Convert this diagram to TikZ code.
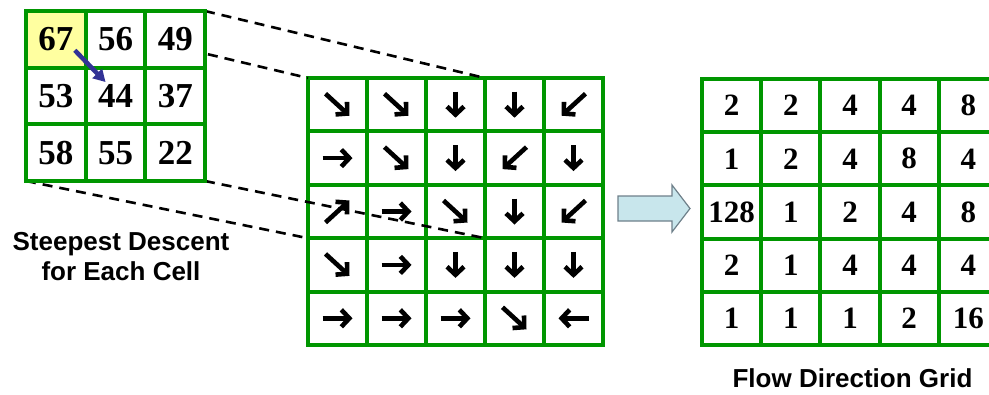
\documentclass[tikz,border=0pt]{standalone}
\usepackage{fontspec}
\setmainfont{Liberation Serif}
\newfontfamily\labfont{Liberation Sans}
\usetikzlibrary{arrows.meta}
\definecolor{gridgreen}{RGB}{0,150,0}
\definecolor{cellyellow}{RGB}{255,255,160}
\definecolor{descblue}{RGB}{50,50,150}
\definecolor{blockfill}{RGB}{200,230,236}
\definecolor{blockedge}{RGB}{110,128,138}
\tikzset{
  cellbase/.style={draw=gridgreen, line width=4pt, fill=white, inner sep=0pt, outer sep=0pt, rectangle},
  scell/.style={cellbase, minimum width=59.7pt, minimum height=56.7pt, font=\fontsize{35}{37}\selectfont\bfseries},
  mcell/.style={cellbase, minimum width=59pt, minimum height=53.4pt},
  rcell/.style={cellbase, minimum width=59.2pt, minimum height=53.2pt, font=\fontsize{31}{33}\selectfont\bfseries},
  flowarr/.style={line width=4.6pt, black, -{Straight Barb[length=8pt,width=17pt]}},
  descarr/.style={line width=4.5pt, descblue, -{Triangle[length=12pt,width=13pt]}},
  guide/.style={black, line width=2.6pt, dash pattern=on 10pt off 7pt},
  lab/.style={font=\labfont\fontsize{26}{30}\selectfont\bfseries, align=center, inner sep=0pt},
  blockarr/.style={fill=blockfill, draw=blockedge, line width=1.2pt, line join=miter}
}
\begin{document}
\begin{tikzpicture}[x=1pt,y=-1pt]
\useasboundingbox (0,0) rectangle (989,394);
\clip (0,0) rectangle (989,394);
% middle grid cells
\foreach \rr in {1,...,5} {
  \foreach \cc in {1,...,5} {
    \node[mcell] (m-\rr-\cc) at ({308+29.5+59*(\cc-1)},{78+26.7+53.4*(\rr-1)}) {};
  }
}
% right grid
\foreach \row [count=\rr] in {{2,2,4,4,8},{1,2,4,8,4},{128,1,2,4,8},{2,1,4,4,4},{1,1,1,2,16}} {
  \foreach \v [count=\cc] in \row {
    \node[rcell] (r-\rr-\cc) at ({702+29.6+59.2*(\cc-1)},{79+26.6+53.2*(\rr-1)}) {\v};
  }
}
% guide lines
\coordinate (g1) at (26,11);
\draw[guide] (g1) -- (m-1-1.north west);
\draw[guide] (205,11) -- (m-1-3.north east);
\draw[guide] (26,181) -- (m-3-1.south west);
\draw[guide] (205,181) -- (m-3-3.south east);
% flow arrows
\foreach \row [count=\rr] in {{2,2,4,4,8},{1,2,4,8,4},{128,1,2,4,8},{2,1,4,4,4},{1,1,1,2,16}} {
  \foreach \v [count=\cc] in \row {
    \pgfmathsetmacro{\dx}{((\v==1)||(\v==2)||(\v==128)) ? 1 : (((\v==8)||(\v==16)||(\v==32)) ? -1 : 0)}
    \pgfmathsetmacro{\dy}{((\v==2)||(\v==4)||(\v==8)) ? 1 : (((\v==32)||(\v==64)||(\v==128)) ? -1 : 0)}
    \pgfmathsetmacro{\hx}{\dx*((\dy==0) ? 15 : 12)}
    \pgfmathsetmacro{\hy}{\dy*((\dx==0) ? 13 : 11)}
    \draw[flowarr] ([shift={(-\hx,-\hy)}]m-\rr-\cc.center) -- ([shift={(\hx,\hy)}]m-\rr-\cc.center);
  }
}
% small grid
\foreach \row [count=\rr] in {{67,56,49},{53,44,37},{58,55,22}} {
  \foreach \v [count=\cc] in \row {
    \node[scell] (s-\rr-\cc) at ({26+29.85+59.7*(\cc-1)},{11+28.35+56.7*(\rr-1)}) {\v};
  }
}
\node[scell, fill=cellyellow] (s-1-1) at (55.85,39.35) {67};
\draw[descarr] ([shift={(19,11)}]s-1-1.center) -- ([shift={(-10,-14)}]s-2-2.center);
% block arrow
\draw[blockarr] (618,196) -- (672,196) -- (672,185) -- (690,208.5) -- (672,232) -- (672,221) -- (618,221) -- cycle;
% labels
\node[lab] (descent) at (121,257) {Steepest Descent\\for Each Cell};
\node[lab] (fdg) at (852.5,378) {Flow Direction Grid};
\end{tikzpicture}
\end{document}
